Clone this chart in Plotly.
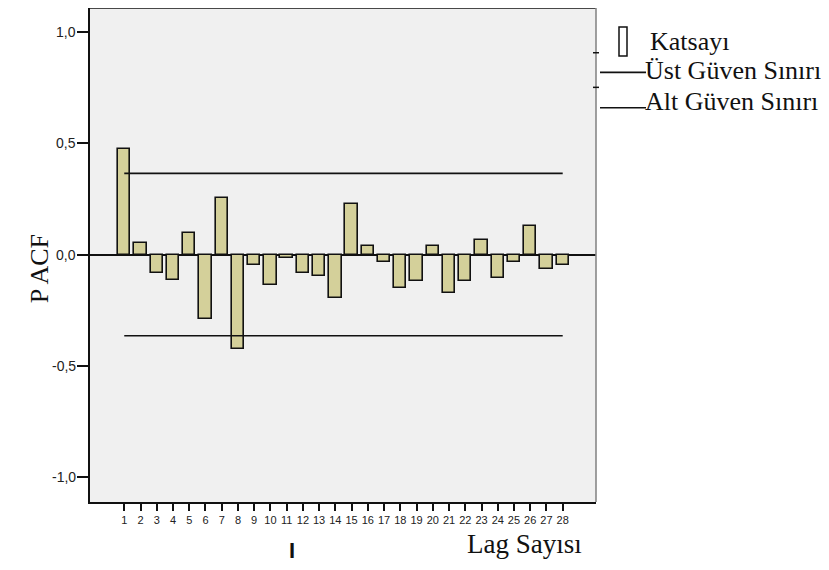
import plotly.graph_objects as go

lags = list(range(1, 29))
pacf = [0.474, 0.050, -0.081, -0.116, 0.097, -0.290, 0.253, -0.425, -0.045, -0.138,
        -0.015, -0.081, -0.098, -0.197, 0.229, 0.037, -0.032, -0.150, -0.117, 0.039,
        -0.171, -0.117, 0.067, -0.107, -0.033, 0.130, -0.066, -0.045]
upper_limit = [0.365] * 28
lower_limit = [-0.365] * 28
y_tickvals = [-1.0, -0.5, 0.0, 0.5, 1.0]
y_ticktext = ["-1,0", "-0,5", "0,0", "0,5", "1,0"]
legend_labels = ["Katsayı", "Üst Güven Sınırı", "Alt Güven Sınırı"]

# page has an 8px body margin, so work in reference pixels shifted by OFF
OFF = 8
W, H = 829 - OFF, 570 - OFF
L, R, T, B = 90 - OFF, 596 - OFF, 0, 501.7 - OFF
PW, PH = R - L, B - T


def px(x):
    return (x - OFF - L) / PW


def py(y):
    return (B - (y - OFF)) / PH


fig = go.Figure()
fig.add_trace(go.Bar(
    x=lags, y=pacf, width=0.76,
    marker=dict(color="#D4D09A", line=dict(color="#111111", width=1.6)),
    showlegend=False,
))
fig.add_trace(go.Scatter(x=lags, y=upper_limit, mode="lines",
                         line=dict(color="#111111", width=1.6), showlegend=False))
fig.add_trace(go.Scatter(x=lags, y=lower_limit, mode="lines",
                         line=dict(color="#111111", width=1.6), showlegend=False))

serif = "Liberation Serif, Times New Roman, serif"
sans = "Liberation Sans, Arial, sans-serif"

fig.update_layout(
    width=W, height=H,
    margin=dict(l=L, r=W - R, t=T, b=H - B, pad=0),
    paper_bgcolor="white", plot_bgcolor="#F0F0F0",
    bargap=0,
    xaxis=dict(range=[-1.11, 30.05], tickmode="array", tickvals=lags,
               ticktext=[str(v) for v in lags], ticks="outside", ticklen=7,
               tickwidth=1.6, tickcolor="#111111", showgrid=False, zeroline=False,
               showline=True, linecolor="#111111", linewidth=1.6, mirror=False,
               tickfont=dict(family=sans, size=11, color="#222222"), fixedrange=True),
    yaxis=dict(range=[-1.112, 1.108], tickmode="array", tickvals=y_tickvals,
               ticks="outside", ticklen=11, tickwidth=1.6, showticklabels=False,
               tickcolor="#111111", showgrid=False, zeroline=True,
               zerolinecolor="#111111", zerolinewidth=1.6,
               showline=True, linecolor="#111111", linewidth=1.6, fixedrange=True),
)

# y tick labels placed right next to the ticks
for v, t in zip(y_tickvals, y_ticktext):
    fig.add_annotation(text=t, x=px(78), y=v, xref="paper", yref="y",
                       xanchor="right", yanchor="middle", showarrow=False,
                       font=dict(family=sans, size=14, color="#222222"))

shapes = [
    dict(type="line", xref="paper", yref="paper", x0=0, x1=1, y0=1, y1=1,
         line=dict(color="#111111", width=1.6)),
    dict(type="line", xref="paper", yref="paper", x0=1, x1=1, y0=0, y1=1,
         line=dict(color="#888888", width=1.6)),
    dict(type="line", xref="paper", yref="paper", x0=px(593), x1=px(599),
         y0=py(52.7), y1=py(52.7), line=dict(color="#111111", width=1.5)),
    dict(type="line", xref="paper", yref="paper", x0=px(593), x1=px(599),
         y0=py(87.3), y1=py(87.3), line=dict(color="#111111", width=1.5)),
    dict(type="rect", xref="paper", yref="paper", x0=px(619), x1=px(627),
         y0=py(56), y1=py(27), fillcolor="white", line=dict(color="#111111", width=1.5)),
    dict(type="line", xref="paper", yref="paper", x0=px(600), x1=px(646),
         y0=py(72.3), y1=py(72.3), line=dict(color="#111111", width=1.6)),
    dict(type="line", xref="paper", yref="paper", x0=px(600), x1=px(646),
         y0=py(107.7), y1=py(107.7), line=dict(color="#111111", width=1.6)),
]
fig.update_layout(shapes=shapes)

annotations = [
    dict(text=legend_labels[0], x=px(648), y=py(41), xanchor="left", yanchor="middle", size=26),
    dict(text=legend_labels[1], x=px(643), y=py(70), xanchor="left", yanchor="middle", size=26),
    dict(text=legend_labels[2], x=px(643), y=py(101), xanchor="left", yanchor="middle", size=26),
    dict(text="Lag Sayısı", x=px(465), y=py(544), xanchor="left", yanchor="middle", size=27),
    dict(text="P ACF", x=px(39), y=py(269), xanchor="center", yanchor="middle", size=26,
         textangle=-90),
]
for a in annotations:
    s = a.pop("size")
    fig.add_annotation(xref="paper", yref="paper", showarrow=False,
                       font=dict(family=serif, size=s, color="#111111"), **a)
fig.add_annotation(text="<b>I</b>", x=px(292), y=py(565), xref="paper", yref="paper",
                   showarrow=False, font=dict(family=sans, size=22, color="#111111"))

fig.write_html("out.html")
